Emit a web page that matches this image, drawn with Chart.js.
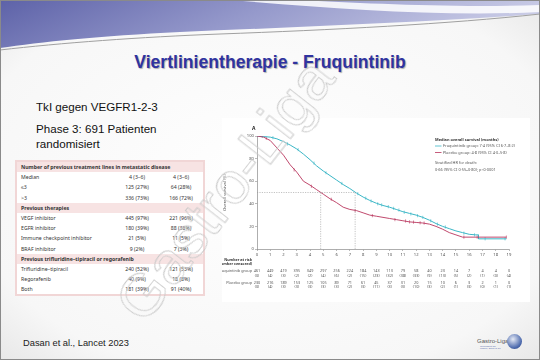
<!DOCTYPE html>
<html>
<head>
<meta charset="utf-8">
<script src="https://cdn.jsdelivr.net/npm/chart.js@4.4.0/dist/chart.umd.min.js"></script>
<style>
  body { margin: 0; }
  #slide { position: relative; width: 540px; height: 360px; overflow: hidden; font-family: "Liberation Sans", Arial, sans-serif; }
  .abs { position: absolute; }
  #title { left: 0; width: 540px; top: 52px; text-align: center; font-weight: bold; font-size: 17.6px; color: #2f33a0; text-shadow: 1px 1px 1px rgba(0,0,0,0.3); }
  .body { font-size: 11.6px; color: #111; left: 36px; }
  #tbl { left: 15px; top: 160px; width: 190px; border: 2px solid #f1d6d6; background: #fff; border-collapse: collapse; font-family: "Noto Sans", sans-serif; font-size: 5.2px; color: #333; }
  #tbl td { height: 10.2px; padding: 0 0 0 4px; white-space: nowrap; }
  #tbl td.c { text-align: center; padding: 0; width: 44px; }
  #tbl tr.h td { background: #f7e3e3; font-weight: bold; }
  #fig { left: 222px; top: 118px; width: 308px; height: 184px; background: #fff; }
  #wm { left: 65px; top: 155px; width: 320px; text-align: center; font-size: 60px; line-height: 70px; color: rgba(255,255,255,0.1); -webkit-text-stroke: 0.8px #c8c8c8; transform: rotate(-52deg); transform-origin: 160px 35px; }
</style>
</head>
<body>
<div id="slide">
  <svg class="abs" width="540" height="360" style="left:0;top:0">
    <defs>
      <radialGradient id="bg" cx="0.5" cy="0.5" r="0.8">
        <stop offset="0" stop-color="#ffffff"/>
        <stop offset="0.7" stop-color="#f7f7f7"/>
        <stop offset="1" stop-color="#dedede"/>
      </radialGradient>
      <linearGradient id="band" x1="0" y1="0" x2="1" y2="0.2">
        <stop offset="0" stop-color="#5d62a8"/>
        <stop offset="0.5" stop-color="#9599cb"/>
        <stop offset="1" stop-color="#c9cbe6"/>
      </linearGradient>
    </defs>
    <rect width="540" height="360" fill="url(#bg)"/>
    <path d="M0,0 H540 V14 C 430,22 300,27 180,32 C 100,36 40,42 0,48 Z" fill="url(#band)"/>
    <path d="M230,0 C 330,8 440,17 540,12 V5 C 450,8 360,3 300,0 Z" fill="#ffffff" opacity="0.85"/>
    <path d="M0,50 C 60,43 140,37 220,34 C 330,30 450,24 540,14" fill="none" stroke="#a0a0a0" stroke-width="1"/>
    <rect x="0.5" y="0.5" width="539" height="359" fill="none" stroke="#8a8a8a"/>
  </svg>

  <div id="title" class="abs">Viertlinientherapie - Fruquintinib</div>
  <div class="abs body" style="top:100px">TkI gegen VEGFR1-2-3</div>
  <div class="abs body" style="top:122px">Phase 3: 691 Patienten</div>
  <div class="abs body" style="top:136.5px">randomisiert</div>

  <table id="tbl" class="abs">
    <tr class="h"><td colspan="3">Number of previous treatment lines in metastatic disease</td></tr>
    <tr><td>Median</td><td class="c">4 (3–6)</td><td class="c">4 (3–6)</td></tr>
    <tr><td>≤3</td><td class="c">125 (27%)</td><td class="c">64 (28%)</td></tr>
    <tr><td>&gt;3</td><td class="c">336 (73%)</td><td class="c">166 (72%)</td></tr>
    <tr class="h"><td colspan="3">Previous therapies</td></tr>
    <tr><td>VEGF inhibitor</td><td class="c">445 (97%)</td><td class="c">221 (96%)</td></tr>
    <tr><td>EGFR inhibitor</td><td class="c">180 (39%)</td><td class="c">88 (38%)</td></tr>
    <tr><td>Immune checkpoint inhibitor</td><td class="c">21 (5%)</td><td class="c">11 (5%)</td></tr>
    <tr><td>BRAF inhibitor</td><td class="c">9 (2%)</td><td class="c">7 (3%)</td></tr>
    <tr class="h"><td colspan="3">Previous trifluridine–tipiracil or regorafenib</td></tr>
    <tr><td>Trifluridine–tipiracil</td><td class="c">240 (52%)</td><td class="c">121 (53%)</td></tr>
    <tr><td>Regorafenib</td><td class="c">40 (9%)</td><td class="c">18 (8%)</td></tr>
    <tr><td>Both</td><td class="c">181 (39%)</td><td class="c">91 (40%)</td></tr>
  </table>

  <div id="fig" class="abs"></div>
  <canvas id="km" class="abs" width="310" height="180" style="left:222px;top:120px"></canvas>

  <div class="abs" style="left:23px;top:338px;font-size:9.3px;color:#222">Dasan et al., Lancet 2023</div>

  <div class="abs" style="left:477px;top:338px;font-size:6px;color:#555">Gastro-Liga</div>
  <div class="abs" style="left:480px;top:345.5px;font-size:2.4px;color:#5a6fb0;line-height:2.8px">Gesundheit für<br>Magen, Darm &amp; Co</div>
  <div class="abs" style="left:507px;top:334px;width:15px;height:15px;border-radius:50%;background:radial-gradient(circle at 40% 35%, #e4e9f5, #4d6aad 65%, #22397a)"></div>

  <div id="wm" class="abs">Gastro-Liga</div>
</div>

<script>
// Kaplan-Meier estimates (months, % alive)
const fruqMonths = [0, 0.5, 1, 1.5, 2, 2.5, 3, 3.5, 4, 4.5, 5, 5.5, 6, 6.5, 7, 7.5, 8, 8.5, 9, 9.5, 10,
  10.5, 11, 11.5, 12, 12.5, 13, 13.5, 14, 14.5, 15, 15.5, 16, 16.5, 16.7, 16.7, 18.8];
const fruqSurvival = [100, 99.5, 99, 97.5, 95, 92, 88.5, 84, 79, 73.5, 69, 65, 61, 57, 53.5, 49.5, 46, 43, 40.5, 38.5, 37,
  35, 33, 31.5, 30, 28, 25.5, 22.5, 20, 18, 16, 14.5, 13, 12.5, 12.5, 9, 9];
const placeboMonths = [0, 0.5, 1, 1.5, 2, 2.5, 3, 3.5, 4, 4.5, 5, 5.5, 6, 6.5, 7, 7.5, 8, 8.5, 9, 9.5, 10,
  10.5, 11, 11.5, 12, 12.5, 13, 13.5, 14, 14.5, 15, 15.5, 18.8];
const placeboSurvival = [100, 99, 96, 89.5, 83, 74.5, 68, 60, 56.5, 52.5, 48.5, 44.5, 41, 37, 35, 34, 32, 30, 29, 28, 27,
  26, 25, 24, 23.5, 23, 22, 20, 17.5, 14.5, 12.5, 10.5, 10.5];

// censor ticks [month, %]
const fruqCensored = [[0.4, 99.6], [1.2, 98.5], [2.3, 93], [3.1, 88], [4.3, 76], [5.2, 67.5], [6.4, 58], [7.6, 49],
  [8.2, 45], [8.6, 42.5], [9.1, 40], [9.4, 39], [9.9, 37.5], [10.3, 36], [10.7, 34.5], [11.1, 32.5], [11.6, 31],
  [12.1, 29.5], [12.5, 28], [13.1, 25], [13.6, 22], [14.2, 19.5], [15.6, 14], [16.4, 12.5], [17.2, 9], [18.7, 9]];
const placeboCensored = [[0.7, 98], [2.8, 70], [4.1, 55.5], [5.6, 44], [7.4, 34], [8.7, 29.5], [10.4, 26], [11.2, 24.8],
  [11.5, 24], [11.8, 23.8], [12.3, 23.2], [12.6, 23], [15.6, 10.5], [16.6, 10.5], [18.8, 10.5]];

const medianFruq = 7.4;
const medianPlacebo = 4.8;

const riskMonths = [0, 1, 2, 3, 4, 5, 6, 7, 8, 9, 10, 11, 12, 13, 14, 15, 16, 17, 18, 19];
const riskFruq = [461, 449, 419, 395, 349, 297, 256, 224, 184, 143, 113, 79, 58, 40, 23, 14, 7, 4, 4, 0];
const censFruq = [0, 4, 3, 2, 2, 4, 6, 2, 15, 23, 32, 38, 33, 9, 13, 5, 2, 1, 0, 4];
const riskPlacebo = [230, 216, 189, 153, 125, 105, 89, 71, 61, 45, 37, 31, 20, 15, 10, 6, 3, 2, 1, 0];
const censPlacebo = [0, 4, 3, 3, 3, 3, 3, 2, 3, 11, 3, 3, 10, 3, 2, 1, 3, 0, 1, 1];

const TEAL = '#3ab6c6';
const RED = '#b9345c';

function pts(xs, ys) { return xs.map((x, i) => ({ x: x, y: ys[i] })); }
function pairs(arr) { return arr.map(p => ({ x: p[0], y: p[1] })); }

const extras = {
  id: 'extras',
  afterDraw(chart) {
    const c = chart.ctx;
    const xs = chart.scales.x;
    c.save();
    c.fillStyle = '#222';
    c.font = 'bold 5px "Noto Sans"';
    c.textAlign = 'left';
    c.textBaseline = 'middle';
    c.fillText('A', 30, 9);

    // legend
    c.fillStyle = '#333';
    c.font = 'bold 3.9px "Noto Sans"';
    c.fillText('Median overall survival (months)', 213, 19.5);
    c.font = '3.9px "Noto Sans"';
    c.fillStyle = '#555';
    c.fillText('Fruquintinib group: 7·4 (95% CI 6·7–8·2)', 221, 26);
    c.fillText('Placebo group: 4·8 (95% CI 4·0–5·8)', 221, 32.5);
    c.fillText('Stratified HR for death:', 213, 43.3);
    c.fillText('0·66 (95% CI 0·55–0·80); p<0·0001', 213, 49.7);
    c.lineWidth = 0.8;
    c.strokeStyle = TEAL;
    c.beginPath(); c.moveTo(213, 26); c.lineTo(219.5, 26); c.stroke();
    c.strokeStyle = RED;
    c.beginPath(); c.moveTo(213, 32.5); c.lineTo(219.5, 32.5); c.stroke();

    // number at risk table
    c.textAlign = 'right';
    c.fillStyle = '#333';
    c.font = 'bold 3.7px "Noto Sans"';
    c.fillText('Number at risk', 30, 140);
    c.fillText('(number censored)', 30, 143.8);
    c.font = '3.8px "Noto Sans"';
    c.fillStyle = '#555';
    c.fillText('Fruquintinib group', 30, 151);
    c.fillText('Placebo group', 30, 162.7);
    c.textAlign = 'center';
    riskMonths.forEach((m, i) => {
      const px = xs.getPixelForValue(m);
      c.fillText(String(riskFruq[i]), px, 151);
      c.fillText('(' + censFruq[i] + ')', px, 155.7);
      c.fillText(String(riskPlacebo[i]), px, 162.7);
      c.fillText('(' + censPlacebo[i] + ')', px, 167.3);
    });
    c.restore();
  }
};

const tickFont = { family: 'Noto Sans', size: 4.2 };

new Chart(document.getElementById('km'), {
  type: 'line',
  data: {
    datasets: [
      { data: [{ x: 0, y: 50 }, { x: medianFruq, y: 50 }], borderColor: '#9a9a9a', borderWidth: 0.6, borderDash: [1.2, 1.2], pointRadius: 0 },
      { data: [{ x: medianPlacebo, y: 50 }, { x: medianPlacebo, y: 0 }], borderColor: '#9a9a9a', borderWidth: 0.6, borderDash: [1.2, 1.2], pointRadius: 0 },
      { data: [{ x: medianFruq, y: 50 }, { x: medianFruq, y: 0 }], borderColor: '#9a9a9a', borderWidth: 0.6, borderDash: [1.2, 1.2], pointRadius: 0 },
      { label: 'Placebo', data: pts(placeboMonths, placeboSurvival), borderColor: RED, borderWidth: 0.9, pointRadius: 0, tension: 0 },
      { label: 'Fruquintinib', data: pts(fruqMonths, fruqSurvival), borderColor: TEAL, borderWidth: 1, pointRadius: 0, tension: 0 },
      { data: pairs(placeboCensored), showLine: false, pointStyle: 'line', rotation: 90, pointRadius: 1.6, borderColor: RED, borderWidth: 0.6 },
      { data: pairs(fruqCensored), showLine: false, pointStyle: 'line', rotation: 90, pointRadius: 1.6, borderColor: TEAL, borderWidth: 0.6 }
    ]
  },
  options: {
    responsive: false,
    animation: false,
    layout: { padding: { top: 16, right: 23, bottom: 41, left: 0 } },
    plugins: { legend: { display: false }, tooltip: { enabled: false } },
    scales: {
      x: {
        type: 'linear', min: 0, max: 19,
        afterFit: s => { s.height = 10; },
        ticks: { stepSize: 1, font: tickFont, color: '#555', padding: 1, maxRotation: 0 },
        grid: { drawOnChartArea: false, tickLength: 2, color: '#777', lineWidth: 0.5 },
        border: { color: '#777', width: 0.6 }
      },
      y: {
        min: 0, max: 100,
        afterFit: s => { s.width = 35; },
        ticks: { stepSize: 20, font: tickFont, color: '#555', padding: 1 },
        grid: { drawOnChartArea: false, tickLength: 2, color: '#777', lineWidth: 0.5 },
        border: { color: '#777', width: 0.6 },
        title: { display: true, text: 'Overall survival (%)', font: { family: 'Noto Sans', size: 4.2 }, color: '#555', padding: 0 }
      }
    }
  },
  plugins: [extras]
});
</script>
</body>
</html>
